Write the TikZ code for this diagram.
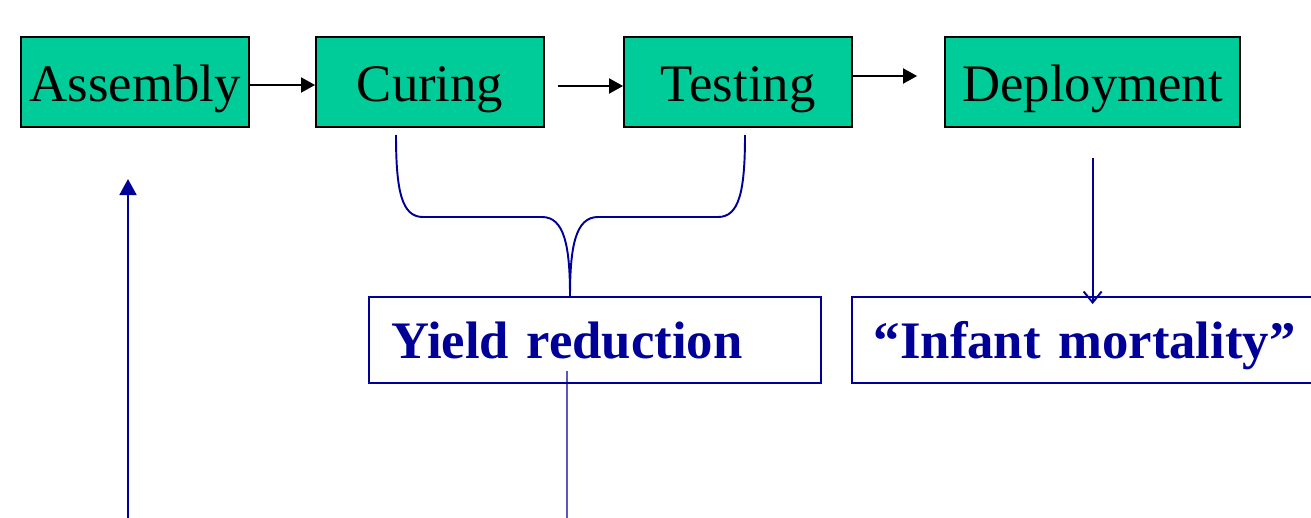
\documentclass[tikz,border=0pt]{standalone}
\usepackage{fontspec}
\setmainfont{Liberation Serif}
\usepackage{xcolor}
\usetikzlibrary{positioning,arrows.meta}
\definecolor{stagegreen}{RGB}{0,204,153}
\definecolor{noteblue}{RGB}{0,0,153}

\begin{document}
\begin{tikzpicture}[
        x = 0.02cm, y = -0.02cm,
        flow/.style = {-{Triangle[length=0.28cm, width=0.3cm]}, line width=1.1pt},
        noteline/.style = {draw=noteblue, line width=1.1pt},
    ]
    \tikzstyle{stage} = [draw=black, line width=1.2pt, fill=stagegreen, minimum width=4.56cm, minimum height=1.8cm, inner xsep=0.1cm, text height=0.78cm, text depth=0cm, font=\fontsize{30}{36}\selectfont];
    \tikzstyle{note} = [draw=noteblue, line width=1.1pt, text=noteblue, minimum height=1.72cm, inner xsep=0.44cm, align=left, text height=0.72cm, text depth=0cm, font=\fontsize{30}{36}\selectfont\bfseries];
    \clip (0,0) rectangle (1311,517);
    \node [stage] (assembly) at (135,82) {Assembly};
    \node [stage, right = 1.3cm of assembly] (curing) {Curing};
    \node [stage, right = 1.56cm of curing] (testing) {Testing};
    \node [stage, minimum width=5.9cm, right = 1.82cm of testing] (deploy) {Deployment};
    \node [note, text width=8.16cm] (yield) at (595,340) {Yield reduction};
    \node [note, text width=8.6cm, right = 0.58cm of yield] (mortality) {“Infant mortality”};
    \draw [flow] ([yshift=-0.06cm]assembly.east) -- ([yshift=-0.06cm]curing.west);
    \draw [flow] ([xshift=0.26cm, yshift=-0.08cm]curing.east) -- ([yshift=-0.08cm]testing.west);
    \draw [flow] ([yshift=0.12cm]testing.east) -- ([xshift=-0.54cm, yshift=0.12cm]deploy.west);
    % brace from curing and testing down to yield
    \coordinate (bl) at (396,135);
    \coordinate (br) at (745,135);
    \coordinate (bp) at ([xshift=-0.5cm]yield.north);
    \draw [noteline] (bl) .. controls (396,192) and (402,217) .. (423,217) -- (542,217)
        .. controls (564,217) and (570,245) .. (bp)
        .. controls (570,245) and (576,217) .. (598,217) -- (718,217)
        .. controls (739,217) and (745,192) .. (br);
    \draw [noteline, -{Straight Barb[length=0.22cm, width=0.36cm]}] ([yshift=-0.6cm]deploy.south) -- ([yshift=-0.16cm]deploy.south |- mortality.north);
    \coordinate (feedback) at (128,525);
    \draw [noteline, -{Triangle[length=0.32cm, width=0.34cm]}] (feedback) -- ([xshift=-0.14cm, yshift=-1.02cm]assembly.south);
    \coordinate (yieldout) at (567,525);
    \draw [noteline, line width=0.7pt] ([xshift=-0.56cm, yshift=-1.5cm]yield.north) -- (yieldout);
\end{tikzpicture}
\end{document}
